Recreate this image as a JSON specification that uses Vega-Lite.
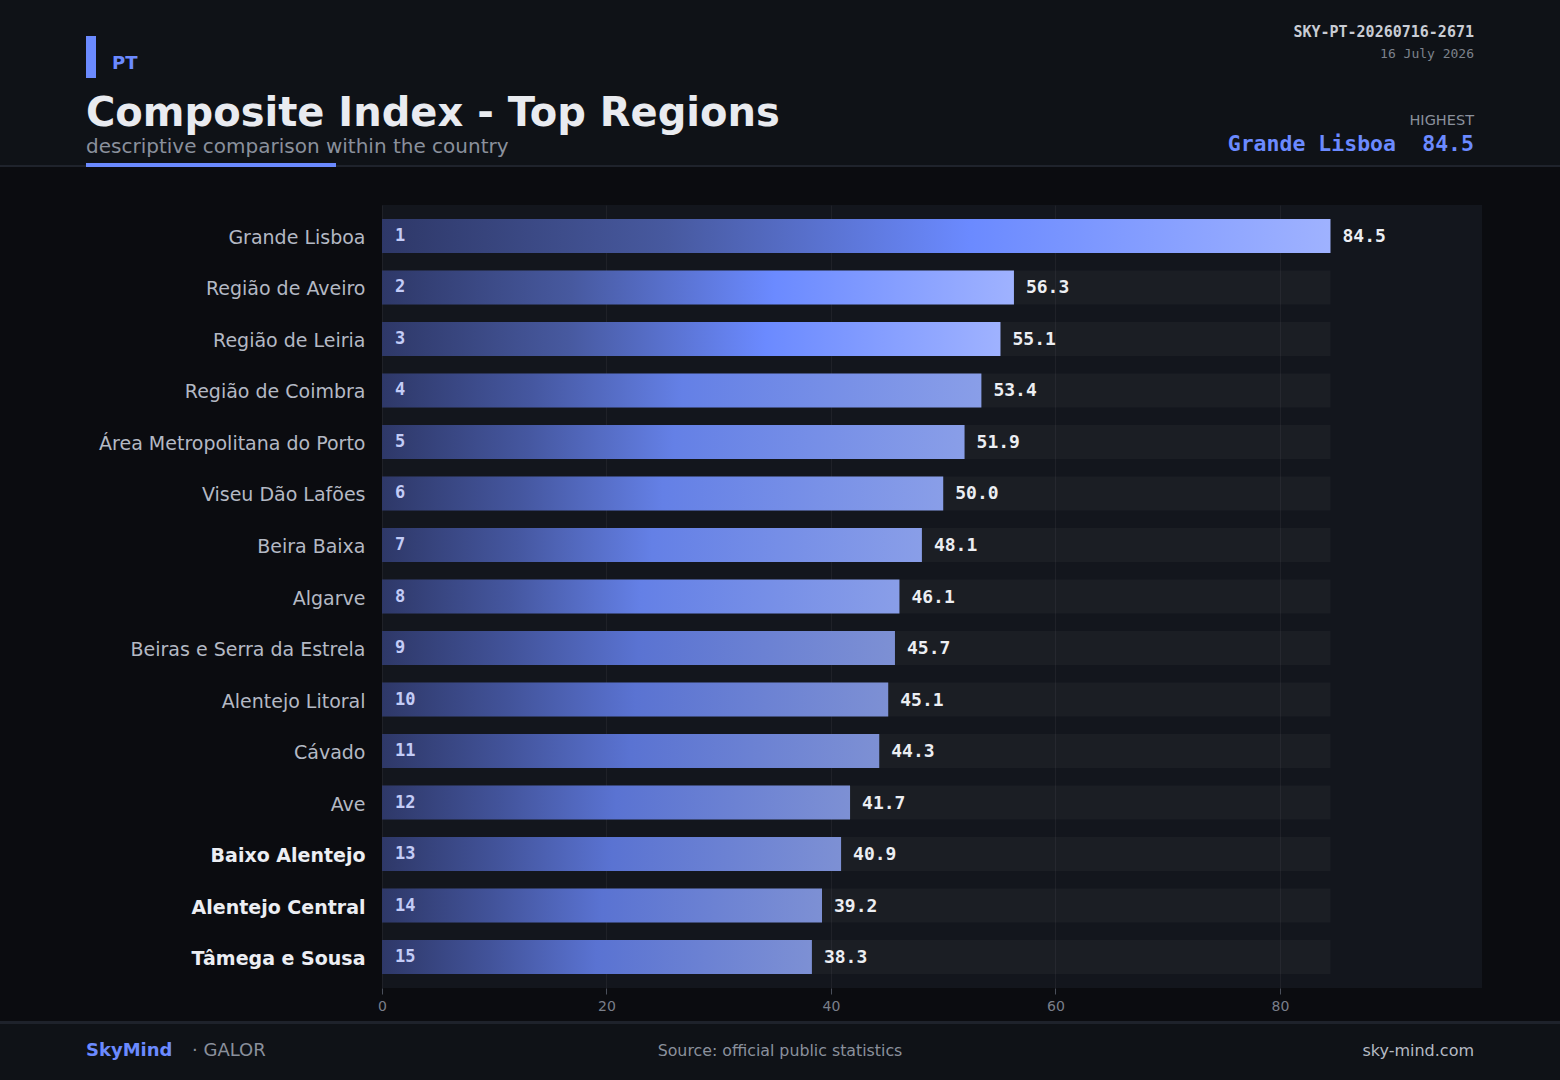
{
  "$schema": "https://vega.github.io/schema/vega-lite/v6.json",
  "width": 1100,
  "height": 783,
  "autosize": {"type": "none"},
  "padding": {"left": 382, "top": 205, "right": 78, "bottom": 92},
  "background": "#0b0c10",
  "config": {"view": {"stroke": null, "fill": "#13161d"}, "font": "DejaVu Sans"},
  "data": {
    "values": [
      {"rank": 1, "region": "Grande Lisboa", "value": 84.5},
      {"rank": 2, "region": "Região de Aveiro", "value": 56.3},
      {"rank": 3, "region": "Região de Leiria", "value": 55.1},
      {"rank": 4, "region": "Região de Coimbra", "value": 53.4},
      {"rank": 5, "region": "Área Metropolitana do Porto", "value": 51.9},
      {"rank": 6, "region": "Viseu Dão Lafões", "value": 50.0},
      {"rank": 7, "region": "Beira Baixa", "value": 48.1},
      {"rank": 8, "region": "Algarve", "value": 46.1},
      {"rank": 9, "region": "Beiras e Serra da Estrela", "value": 45.7},
      {"rank": 10, "region": "Alentejo Litoral", "value": 45.1},
      {"rank": 11, "region": "Cávado", "value": 44.3},
      {"rank": 12, "region": "Ave", "value": 41.7},
      {"rank": 13, "region": "Baixo Alentejo", "value": 40.9},
      {"rank": 14, "region": "Alentejo Central", "value": 39.2},
      {"rank": 15, "region": "Tâmega e Sousa", "value": 38.3}
    ]
  },
  "encoding": {
    "y": {
      "field": "region",
      "type": "nominal",
      "sort": {"field": "rank", "op": "min", "order": "ascending"},
      "scale": {"paddingInner": 0.34, "paddingOuter": 0.27},
      "axis": {
        "title": null,
        "domain": false,
        "ticks": false,
        "grid": false,
        "labelPadding": 17,
        "labelOffset": 2,
        "labelFontSize": 19,
        "labelLimit": 400,
        "labelFont": "DejaVu Sans",
        "labelColor": {"condition": {"test": "indexof(['Baixo Alentejo','Alentejo Central','Tâmega e Sousa'], datum.value) >= 0", "value": "#eceef3"}, "value": "#b4b9c4"},
        "labelFontWeight": {"condition": {"test": "indexof(['Baixo Alentejo','Alentejo Central','Tâmega e Sousa'], datum.value) >= 0", "value": "bold"}, "value": "normal"}
      }
    }
  },
  "layer": [
    {
      "data": {"values": [{}]},
      "mark": {"type": "rect", "fill": "#0f1217"},
      "encoding": {"x": {"value": -382}, "x2": {"value": 1178}, "y": {"value": -205}, "y2": {"value": -39}}
    },
    {
      "data": {"values": [{}]},
      "mark": {"type": "rect", "fill": "#1f232c"},
      "encoding": {"x": {"value": -382}, "x2": {"value": 1178}, "y": {"value": -40}, "y2": {"value": -38}}
    },
    {
      "data": {"values": [{}]},
      "mark": {"type": "rect", "fill": "#6b8aff"},
      "encoding": {"x": {"value": -296}, "x2": {"value": -46}, "y": {"value": -42}, "y2": {"value": -38}}
    },
    {
      "data": {"values": [{}]},
      "mark": {"type": "rect", "fill": "#6b8aff"},
      "encoding": {"x": {"value": -296}, "x2": {"value": -286}, "y": {"value": -169}, "y2": {"value": -127}}
    },
    {
      "data": {"values": [{}]},
      "mark": {"type": "rect", "fill": "#1e222b"},
      "encoding": {"x": {"value": -382}, "x2": {"value": 1178}, "y": {"value": 816}, "y2": {"value": 819}}
    },
    {
      "data": {"values": [{}]},
      "mark": {"type": "rect", "fill": "#0f1217"},
      "encoding": {"x": {"value": -382}, "x2": {"value": 1178}, "y": {"value": 819}, "y2": {"value": 875}}
    },
    {
      "data": {"values": [{}]},
      "mark": {"type": "text", "text": "PT", "font": "DejaVu Sans", "fontWeight": "bold", "fontSize": 18, "fill": "#6b8aff", "align": "left", "baseline": "alphabetic"},
      "encoding": {"x": {"value": -270}, "y": {"value": -136}}
    },
    {
      "data": {"values": [{}]},
      "mark": {"type": "text", "text": "Composite Index - Top Regions", "font": "DejaVu Sans", "fontWeight": "bold", "fontSize": 40, "fill": "#e9ebf0", "align": "left", "baseline": "alphabetic"},
      "encoding": {"x": {"value": -296}, "y": {"value": -79}}
    },
    {
      "data": {"values": [{}]},
      "mark": {"type": "text", "text": "descriptive comparison within the country", "font": "DejaVu Sans", "fontSize": 20, "fill": "#8a909c", "align": "left", "baseline": "alphabetic"},
      "encoding": {"x": {"value": -296}, "y": {"value": -52}}
    },
    {
      "data": {"values": [{}]},
      "mark": {"type": "text", "text": "SKY-PT-20260716-2671", "font": "DejaVu Sans Mono", "fontWeight": "bold", "fontSize": 15, "fill": "#c9ccd4", "align": "right", "baseline": "alphabetic"},
      "encoding": {"x": {"value": 1092}, "y": {"value": -168}}
    },
    {
      "data": {"values": [{}]},
      "mark": {"type": "text", "text": "16 July 2026", "font": "DejaVu Sans Mono", "fontSize": 13, "fill": "#7d828c", "align": "right", "baseline": "alphabetic"},
      "encoding": {"x": {"value": 1092}, "y": {"value": -147}}
    },
    {
      "data": {"values": [{}]},
      "mark": {"type": "text", "text": "HIGHEST", "font": "DejaVu Sans", "fontSize": 14.5, "fill": "#8a909c", "align": "right", "baseline": "alphabetic"},
      "encoding": {"x": {"value": 1092}, "y": {"value": -80}}
    },
    {
      "transform": [{"filter": "datum.rank == 1"}],
      "mark": {"type": "text", "font": "DejaVu Sans Mono", "fontWeight": "bold", "fontSize": 21.5, "fill": "#6b8aff", "align": "right", "baseline": "alphabetic"},
      "encoding": {"x": {"value": 1014}, "y": {"value": -54}, "text": {"field": "region"}}
    },
    {
      "transform": [{"filter": "datum.rank == 1"}],
      "mark": {"type": "text", "font": "DejaVu Sans Mono", "fontWeight": "bold", "fontSize": 21.5, "fill": "#6b8aff", "align": "right", "baseline": "alphabetic"},
      "encoding": {"x": {"value": 1092}, "y": {"value": -54}, "text": {"field": "value", "format": ".1f"}}
    },
    {
      "data": {"values": [{}]},
      "mark": {"type": "text", "text": "SkyMind", "font": "DejaVu Sans", "fontWeight": "bold", "fontSize": 18, "fill": "#6b8aff", "align": "left", "baseline": "alphabetic"},
      "encoding": {"x": {"value": -296}, "y": {"value": 851}}
    },
    {
      "data": {"values": [{}]},
      "mark": {"type": "text", "text": "· GALOR", "font": "DejaVu Sans", "fontSize": 18, "fill": "#8a909c", "align": "left", "baseline": "alphabetic"},
      "encoding": {"x": {"value": -190}, "y": {"value": 851}}
    },
    {
      "data": {"values": [{}]},
      "mark": {"type": "text", "text": "Source: official public statistics", "font": "DejaVu Sans", "fontSize": 15.8, "fill": "#8a909c", "align": "center", "baseline": "alphabetic"},
      "encoding": {"x": {"value": 398}, "y": {"value": 851}}
    },
    {
      "data": {"values": [{}]},
      "mark": {"type": "text", "text": "sky-mind.com", "font": "DejaVu Sans", "fontSize": 16, "fill": "#b5bac4", "align": "right", "baseline": "alphabetic"},
      "encoding": {"x": {"value": 1092}, "y": {"value": 851}}
    },
    {
      "transform": [{"joinaggregate": [{"op": "max", "field": "value", "as": "maxValue"}]}],
      "mark": {"type": "bar", "fill": "#ffffff", "fillOpacity": 0.035},
      "encoding": {
        "x": {
          "field": "maxValue",
          "type": "quantitative",
          "scale": {"domain": [0, 98], "nice": false, "zero": true},
          "axis": {
            "title": null,
            "values": [0, 20, 40, 60, 80],
            "domain": false,
            "ticks": true,
            "tickSize": 6,
            "tickColor": "#4a4f5a",
            "labelColor": "#7a7f8a",
            "labelFont": "DejaVu Sans",
            "labelFontSize": 14,
            "labelPadding": 5,
            "labelFlush": false,
            "grid": true,
            "gridColor": "#ffffff",
            "gridOpacity": 0.05
          }
        }
      }
    },
    {
      "transform": [{"filter": "datum.rank <= 3"}],
      "mark": {"type": "bar", "fill": {"gradient": "linear", "x1": 0, "y1": 0, "x2": 1, "y2": 0, "stops": [{"offset": 0, "color": "#2e3868"}, {"offset": 0.3, "color": "#47599f"}, {"offset": 0.62, "color": "#6b8aff"}, {"offset": 1, "color": "#9fb2ff"}]}},
      "encoding": {"x": {"field": "value", "type": "quantitative", "scale": {"domain": [0, 98], "nice": false}}}
    },
    {
      "transform": [{"filter": "datum.rank > 3 && datum.rank <= 8"}],
      "mark": {"type": "bar", "fill": {"gradient": "linear", "x1": 0, "y1": 0, "x2": 1, "y2": 0, "stops": [{"offset": 0, "color": "#2e3868"}, {"offset": 0.25, "color": "#4557a0"}, {"offset": 0.5, "color": "#6480e6"}, {"offset": 1, "color": "#899ee8"}]}},
      "encoding": {"x": {"field": "value", "type": "quantitative", "scale": {"domain": [0, 98], "nice": false}}}
    },
    {
      "transform": [{"filter": "datum.rank > 8"}],
      "mark": {"type": "bar", "fill": {"gradient": "linear", "x1": 0, "y1": 0, "x2": 1, "y2": 0, "stops": [{"offset": 0, "color": "#2e3868"}, {"offset": 0.25, "color": "#42539a"}, {"offset": 0.5, "color": "#5a73d2"}, {"offset": 1, "color": "#7d90d4"}]}},
      "encoding": {"x": {"field": "value", "type": "quantitative", "scale": {"domain": [0, 98], "nice": false}}}
    },
    {
      "mark": {"type": "text", "font": "DejaVu Sans Mono", "fontWeight": "bold", "fontSize": 17, "fill": "#c3ccf7", "align": "left", "baseline": "middle", "dx": 13, "dy": 0},
      "encoding": {"x": {"datum": 0, "type": "quantitative", "scale": {"domain": [0, 98], "nice": false}}, "text": {"field": "rank"}}
    },
    {
      "mark": {"type": "text", "font": "DejaVu Sans Mono", "fontWeight": "bold", "fontSize": 18, "fill": "#eceef3", "align": "left", "baseline": "middle", "dx": 12, "dy": 1},
      "encoding": {"x": {"field": "value", "type": "quantitative", "scale": {"domain": [0, 98], "nice": false}}, "text": {"field": "value", "format": ".1f"}}
    }
  ]
}
